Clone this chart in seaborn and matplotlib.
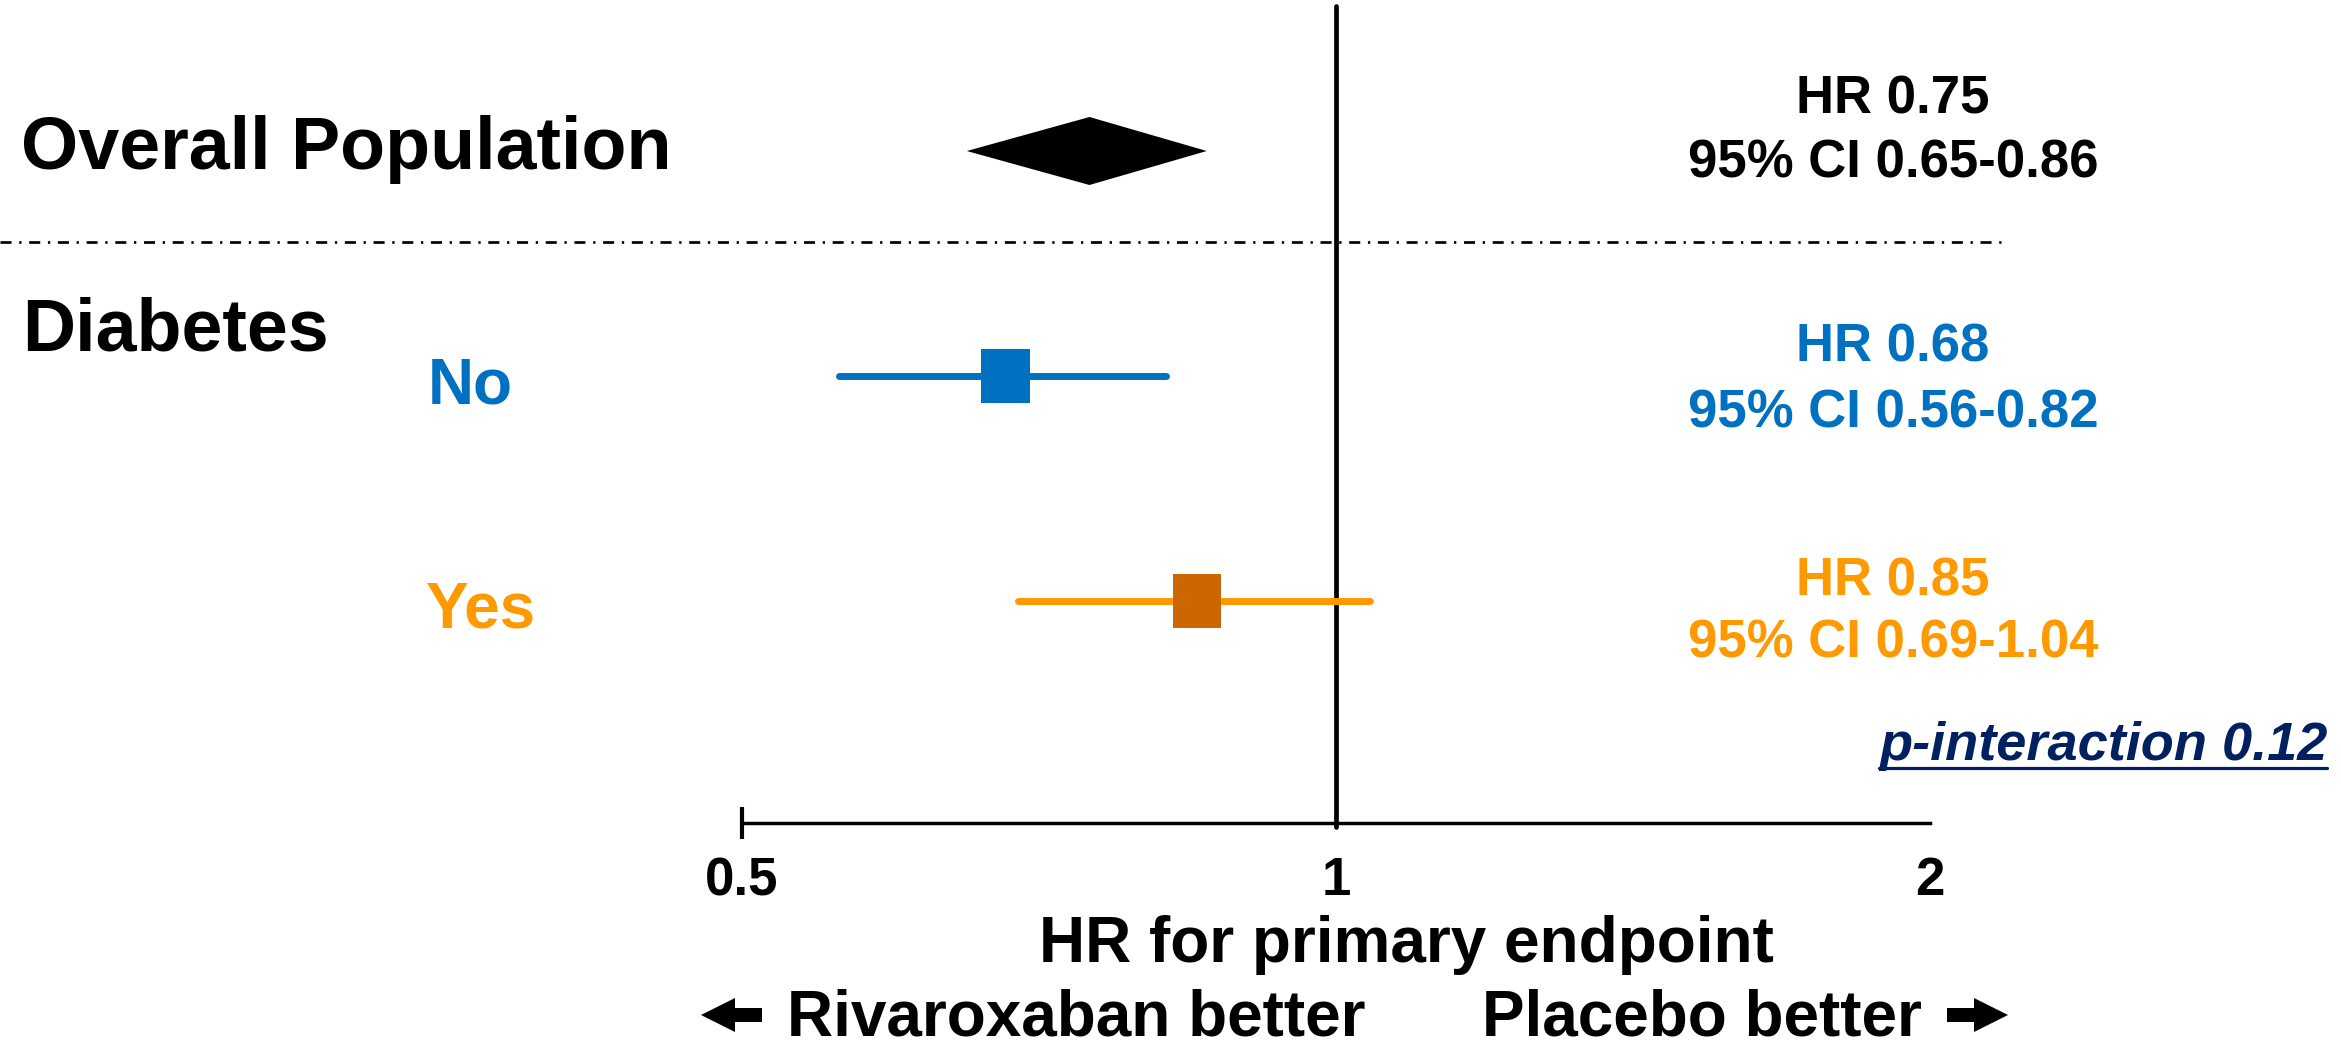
import numpy as np
import pandas as pd
import matplotlib
matplotlib.use("Agg")
import matplotlib.pyplot as plt
import seaborn as sns
from matplotlib.lines import Line2D
from matplotlib.patches import FancyArrow
from matplotlib.transforms import IdentityTransform
from matplotlib.ticker import FixedLocator, NullFormatter

# ---------------- data ----------------
groups = ["Overall Population", "No", "Yes"]
hr = [0.75, 0.68, 0.85]
ci_low = [0.65, 0.56, 0.69]
ci_high = [0.86, 0.82, 1.04]
rows = [0, 1, 2]
hr_labels = ["HR 0.75", "HR 0.68", "HR 0.85"]
ci_labels = ["95% CI 0.65-0.86", "95% CI 0.56-0.82", "95% CI 0.69-1.04"]
subgroup_title = "Diabetes"
p_interaction = "p-interaction 0.12"
tick_values = [0.5, 1, 2]
tick_labels = ["0.5", "1", "2"]
x_label = "HR for primary endpoint"
left_note = "Rivaroxaban better"
right_note = "Placebo better"

# ---------------- style ----------------
text_colors = ["#000000", "#0070C0", "#FF9900"]
line_colors = ["#000000", "#0070C0", "#FF9900"]
marker_colors = ["#000000", "#0070C0", "#CC6600"]
navy = "#002060"

sns.set_theme(style="white")
plt.rcParams["font.family"] = ["Liberation Sans", "DejaVu Sans"]
plt.rcParams["font.weight"] = "bold"

W, H = 2341, 1041
fig = plt.figure(figsize=(W / 100, H / 100), dpi=100)
ax = fig.add_axes([0, 0, 1, 1])
ax.set_facecolor("white")

# layout (pixels of the figure)
x05_px, x2_px = 742, 1930
px_per_oct = (x2_px - x05_px) / 2.0
row0_px, row_step_px = 151, 225

ax.set_xscale("log", base=2)
ax.set_xlim(0.5 * 2 ** (-x05_px / px_per_oct), 2 * 2 ** ((W - x2_px) / px_per_oct))
ax.set_ylim((H - row0_px) / row_step_px, -row0_px / row_step_px)

df = pd.DataFrame({"group": groups, "hr": hr, "lo": ci_low, "hi": ci_high, "row": rows})
sub = df.iloc[1:]

# CI lines for subgroups
lc = ax.hlines(sub["row"], sub["lo"], sub["hi"], colors=line_colors[1:], linewidth=5, zorder=3)
lc.set_capstyle("round")

# subgroup markers (rectangles)
rect = [(-0.873, -1), (0.873, -1), (0.873, 1), (-0.873, 1), (-0.873, -1)]
sns.scatterplot(data=sub, x="hr", y="row", hue="group",
                palette=dict(zip(groups[1:], marker_colors[1:])),
                marker=rect, s=1568, linewidth=0, legend=False, ax=ax, zorder=4)

# overall diamond
h = 34 / row_step_px
o = df.iloc[0]
ax.fill([o["lo"], o["hr"], o["hi"], o["hr"]],
        [o["row"], o["row"] - h, o["row"], o["row"] + h],
        color=marker_colors[0], linewidth=0, zorder=4)

# reference line at HR 1
ax.axvline(1, ymin=(H - 827) / H, ymax=1 - 6 / H, color="black", linewidth=3.4, zorder=2)

# axis
for s in ["left", "top", "right"]:
    ax.spines[s].set_visible(False)
ax.spines["bottom"].set_position(("data", (823 - row0_px) / row_step_px))
ax.spines["bottom"].set_bounds(0.5, 2)
ax.spines["bottom"].set_linewidth(2.5)
ax.spines["bottom"].set_color("black")
ax.set_yticks([])
ax.set_xticks(tick_values)
ax.set_xticklabels(tick_labels)
ax.xaxis.remove_overlapping_locs = False
ax.xaxis.set_minor_locator(FixedLocator([0.5]))
ax.xaxis.set_minor_formatter(NullFormatter())
ax.tick_params(axis="x", which="major", bottom=True, length=0, pad=24,
               labelsize=38, labelcolor="black")
ax.tick_params(axis="x", which="minor", bottom=True, direction="inout",
               length=23, width=3, color="black")
for t in ax.get_xticklabels():
    t.set_fontweight("bold")
ax.set_xlabel("")

def ftext(x, y, s, **kw):
    return fig.text(x / W, 1 - y / H, s, fontweight="bold", **kw)

# left labels
ftext(21, 169, groups[0], fontsize=53, ha="left", va="baseline", color=text_colors[0])
ftext(22, 351, subgroup_title, fontsize=53, ha="left", va="baseline", color="black")
ftext(428, 404, groups[1], fontsize=46, ha="left", va="baseline", color=text_colors[1])
ftext(426, 628, groups[2], fontsize=46, ha="left", va="baseline", color=text_colors[2])

# right labels
hr_base = [113, 362, 595]
ci_base = [178, 427, 658]
for i in range(3):
    ftext(1893, hr_base[i], hr_labels[i], fontsize=38, ha="center", va="baseline", color=text_colors[i])
    ftext(1893, ci_base[i], ci_labels[i], fontsize=38, ha="center", va="baseline", color=text_colors[i])

# p-interaction with underline
pt = ftext(1879, 760, p_interaction, fontsize=39, style="italic", ha="left",
           va="baseline", color=navy)

# separator
fig.add_artist(Line2D([0, 2005 / W], [1 - 242 / H] * 2, transform=fig.transFigure,
                      color="black", linewidth=1.94, linestyle=(0, (4.1, 2.85, 0.85, 2.85))))

# bottom labels
ftext(1406, 962, x_label, fontsize=46, ha="center", va="baseline", color="black")
ftext(787, 1035, left_note, fontsize=46, ha="left", va="baseline", color="black")
ftext(1922, 1035, right_note, fontsize=46, ha="right", va="baseline", color="black")

# block arrows (display pixels)
ay = H - 1015
fig.add_artist(FancyArrow(762, ay, -61, 0, width=14, head_width=34, head_length=34,
                          length_includes_head=True, color="black", linewidth=0,
                          transform=IdentityTransform()))
fig.add_artist(FancyArrow(1947, ay, 61, 0, width=14, head_width=34, head_length=34,
                          length_includes_head=True, color="black", linewidth=0,
                          transform=IdentityTransform()))

fig.canvas.draw()
bb = pt.get_window_extent()
fig.add_artist(Line2D([bb.x0 / W, bb.x1 / W], [1 - 768 / H] * 2, transform=fig.transFigure,
                      color=navy, linewidth=2.3))

fig.savefig("out.png", dpi=100, facecolor="white")
